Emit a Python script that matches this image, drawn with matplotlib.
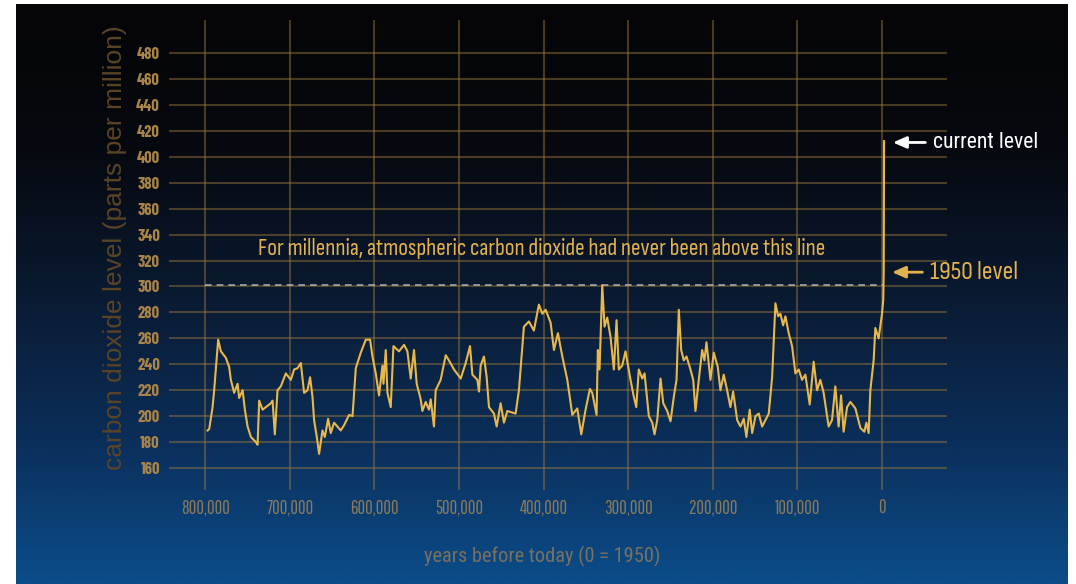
import matplotlib
matplotlib.use("Agg")
import matplotlib.pyplot as plt
import numpy as np
from matplotlib.colors import LinearSegmentedColormap
from matplotlib import font_manager
from matplotlib.font_manager import FontProperties
from matplotlib.textpath import TextPath

# ---------------- data ----------------
years_k = [797.2, 795.3, 791.3, 789.4, 784.7, 781.5, 775.6, 771.7, 769.7, 765.8, 761.7, 759.9, 755.8, 753.1,
           749.9, 746.0, 740.1, 738.1, 736.2, 732.2, 722.4, 720.4, 717.7, 714.5, 710.6, 704.7, 698.8, 694.9,
           690.9, 687.0, 683.1, 679.1, 676.0, 673.2, 671.3, 668.1, 665.4, 661.4, 658.6, 654.7, 651.6, 647.7,
           639.8, 635.9, 629.9, 625.9, 622.0, 616.1, 610.2, 605.1, 602.3, 598.4, 594.5, 590.5, 589.3, 586.6,
           584.6, 580.7, 577.5, 570.9, 565.0, 561.0, 557.1, 553.2, 550.0, 545.3, 543.3, 539.4, 535.5, 533.5,
           529.6, 527.6, 521.7, 515.7, 511.9, 505.9, 498.0, 492.1, 487.0, 484.2, 478.3, 476.4, 474.4, 470.5,
           467.3, 464.6, 458.7, 455.5, 450.8, 446.9, 442.9, 433.1, 429.2, 423.3, 417.4, 411.5, 405.6, 401.5,
           397.6, 391.7, 387.8, 383.1, 377.9, 372.0, 366.1, 360.2, 355.5, 350.4, 345.3, 342.5, 337.4, 335.9,
           333.9, 330.7, 328.0, 324.8, 320.9, 317.0, 313.8, 311.1, 307.1, 303.2, 297.3, 293.4, 290.5, 287.5,
           283.4, 280.7, 275.6, 271.6, 268.9, 265.7, 261.8, 258.6, 253.9, 250.0, 246.1, 242.9, 240.2, 237.4,
           234.3, 231.1, 226.4, 223.2, 220.5, 216.6, 212.6, 209.9, 207.5, 202.8, 198.9, 194.2, 191.0, 187.1,
           183.1, 179.2, 176.0, 171.2, 167.3, 163.5, 160.3, 156.4, 153.5, 149.6, 145.7, 141.7, 137.8, 133.9,
           129.9, 126.0, 122.8, 120.1, 116.9, 114.2, 110.3, 106.3, 102.4, 98.5, 94.5, 90.6, 85.5, 80.8,
           76.8, 72.9, 69.0, 63.1, 59.1, 55.2, 51.3, 48.4, 45.4, 41.3, 37.4, 31.5, 25.6, 20.9,
           18.5, 15.8, 13.8, 9.9, 7.9, 4.0, 0.0, -1.5, -2.0, -2.4]
co2_ppm = [189, 190, 207, 220, 259, 250, 245, 238, 228, 218, 225, 214, 220, 205,
           192, 184, 180, 178, 212, 205, 210, 212, 186, 220, 223, 233, 228, 236,
           237, 241, 218, 220, 230, 215, 197, 184, 171, 189, 184, 198, 187, 195,
           189, 193, 201, 200, 237, 249, 259, 259, 246, 233, 216, 239, 225, 251,
           218, 207, 254, 250, 255, 250, 229, 251, 225, 213, 204, 211, 205, 213,
           192, 220, 228, 247, 243, 236, 229, 241, 254, 232, 228, 219, 239, 246,
           230, 207, 202, 192, 210, 195, 204, 202, 220, 269, 273, 266, 286, 279,
           282, 272, 251, 264, 246, 228, 201, 206, 186, 205, 221, 218, 201, 251,
           236, 301, 269, 276, 261, 236, 274, 236, 239, 250, 228, 215, 207, 236,
           229, 233, 200, 195, 186, 197, 229, 210, 204, 196, 215, 228, 282, 251,
           243, 246, 236, 228, 204, 228, 251, 243, 257, 228, 249, 238, 220, 232,
           220, 207, 219, 197, 192, 198, 184, 205, 187, 200, 202, 192, 197, 202,
           230, 287, 277, 279, 270, 277, 264, 254, 233, 236, 228, 232, 209, 242,
           220, 228, 218, 192, 197, 223, 192, 216, 188, 207, 211, 206, 191, 188,
           195, 187, 220, 243, 268, 260, 279, 290, 311, 412]
years = np.array(years_k) * 1000.0
ppm = np.array(co2_ppm, dtype=float)

y_ticks = [160, 180, 200, 220, 240, 260, 280, 300, 320, 340, 360, 380, 400, 420, 440, 460, 480]
x_ticks = [800000, 700000, 600000, 500000, 400000, 300000, 200000, 100000, 0]
x_tick_labels = ["800,000", "700,000", "600,000", "500,000", "400,000", "300,000", "200,000", "100,000", "0"]
threshold_ppm = 301
current_ppm = 411
level_1950_ppm = 311

# ---------------- font choice (match reference glyph proportions) ----------------
ttf = font_manager.fontManager.ttflist
names = {f.name for f in ttf}

def _w(v):
    try:
        return int(v)
    except (TypeError, ValueError):
        return 700 if str(v) in ('bold', 'heavy', 'black', 'extra bold', 'semibold', 'demibold') else 400

bold_names = {f.name for f in ttf if _w(f.weight) >= 600}
pref = ['Liberation Sans', 'Arimo', 'Roboto', 'Nimbus Sans Narrow', 'Liberation Sans Narrow', 'Arial Narrow',
        'Roboto Condensed', 'Archivo Narrow', 'Barlow Semi Condensed', 'Barlow Condensed',
        'Sofia Sans Semi Condensed', 'Sofia Sans Condensed', 'Sofia Sans Extra Condensed',
        'Encode Sans Condensed', 'Encode Sans Compressed', 'Pathway Gothic One', 'Antonio']

def pick(text, tw, th, weight='normal', wexp=0.65):
    cands = [n for n in pref if n in names and (weight == 'normal' or n in bold_names)] or ['DejaVu Sans']
    best = None
    for f in cands:
        fp = FontProperties(family=f, weight=weight)
        ext = TextPath((0, 0), text, size=100, prop=fp).get_extents()
        w, h = ext.width, ext.height
        if w <= 0 or h <= 0:
            continue
        score = abs(np.log((w / h) / (tw / th)))
        if best is None or score < best[0]:
            sw = 100 * tw / w * 0.72
            sh = 100 * th / h * 0.72
            best = (score, f, float(sw ** wexp * sh ** (1 - wexp)))
    return best[1], best[2]

f_main, s_main = pick("For millennia, atmospheric carbon dioxide had never been above this line", 569, 20)
f_cur, s_cur = pick("current level", 103, 16.7)
f_1950, s_1950 = pick("1950 level", 86, 18)
f_xt, s_xt = pick("800,000", 48, 15)
f_yt, s_yt = pick("480", 21, 13.3, weight='bold')
f_xl, s_xl = pick("years before today (0 = 1950)", 235, 21)
f_yl, s_yl = pick("carbon dioxide level (parts per million)", 453, 20, wexp=0.9)

W, H = 1076, 584
fig = plt.figure(figsize=(W / 100, H / 100), dpi=100, facecolor='white')

def px_rect(x0, y0, x1, y1):
    return [x0 / W, 1 - y1 / H, (x1 - x0) / W, (y1 - y0) / H]

# background gradient
bg = fig.add_axes(px_rect(16, 4, 1068, 584), zorder=-5)
cmap = LinearSegmentedColormap.from_list('bg', [
    (0.0, '#050507'), (0.25, '#06090f'), (0.5, '#0a1a31'), (0.75, '#0b2e59'), (1.0, '#0b4d8a')])
grad = np.linspace(0, 1, 256).reshape(-1, 1)
bg.imshow(grad, aspect='auto', cmap=cmap, extent=[0, 1, 1, 0])
bg.set_axis_off()

# main axes
ax = fig.add_axes(px_rect(169, 20, 947, 490))
ax.set_facecolor('none')
ax.set_xlim(842800, -76800)
ax.set_ylim(143.1, 505.4)
for s in ax.spines.values():
    s.set_visible(False)

grid_col = '#a07a3a'
for yv in y_ticks:
    ax.axhline(yv, color=grid_col, alpha=0.45, lw=1.5, zorder=1)
for xv in x_ticks:
    ax.axvline(xv, color=grid_col, alpha=0.45, lw=1.5, zorder=1)

ax.set_yticks(y_ticks)
ax.set_yticklabels([str(v) for v in y_ticks], family=[f_yt, 'DejaVu Sans'], fontsize=s_yt,
                   fontweight='bold', color='#a8834a')
ax.set_xticks(x_ticks)
ax.set_xticklabels(x_tick_labels, family=[f_xt, 'DejaVu Sans'], fontsize=s_xt, color='#8a7a5a')
ax.tick_params(axis='y', length=0, pad=6.5)
ax.tick_params(axis='x', length=0, pad=6)

# dashed threshold line
ax.plot([800000, -1500], [threshold_ppm, threshold_ppm], color='#c8c8c8', lw=1.2, dashes=(4, 3), alpha=0.8, zorder=2)

# data line
ax.plot(years, ppm, color='#e8b84a', lw=1.5, zorder=3, solid_joinstyle='round')

ax.text(402000, 329.5, "For millennia, atmospheric carbon dioxide had never been above this line",
        family=[f_main, 'DejaVu Sans'], fontsize=s_main, color='#e3b24f', ha='center', va='center')

ax.annotate("", xy=(-9600, current_ppm), xytext=(-54500, current_ppm),
            arrowprops=dict(arrowstyle='-|>,head_length=0.8,head_width=0.35', color='white', lw=2),
            annotation_clip=False)
ax.text(-60400, current_ppm, "current level", family=[f_cur, 'DejaVu Sans'], fontsize=s_cur, color='white',
        ha='left', va='center', clip_on=False)
ax.annotate("", xy=(-8500, level_1950_ppm), xytext=(-51000, level_1950_ppm),
            arrowprops=dict(arrowstyle='-|>,head_length=0.8,head_width=0.35', color='#e3b24f', lw=2),
            annotation_clip=False)
ax.text(-56500, level_1950_ppm, "1950 level", family=[f_1950, 'DejaVu Sans'], fontsize=s_1950, color='#e3b24f',
        ha='left', va='center', clip_on=False)

fig.text(542 / W, 1 - 556 / H, "years before today (0 = 1950)", family=[f_xl, 'DejaVu Sans'], fontsize=s_xl,
         color='#7a7060', ha='center', va='center')
fig.text(115 / W, 1 - 248 / H, "carbon dioxide level (parts per million)", family=[f_yl, 'DejaVu Sans'],
         fontsize=s_yl, color='#5a4426', ha='center', va='center', rotation=90)

fig.savefig('out.png', dpi=100, facecolor='white')
